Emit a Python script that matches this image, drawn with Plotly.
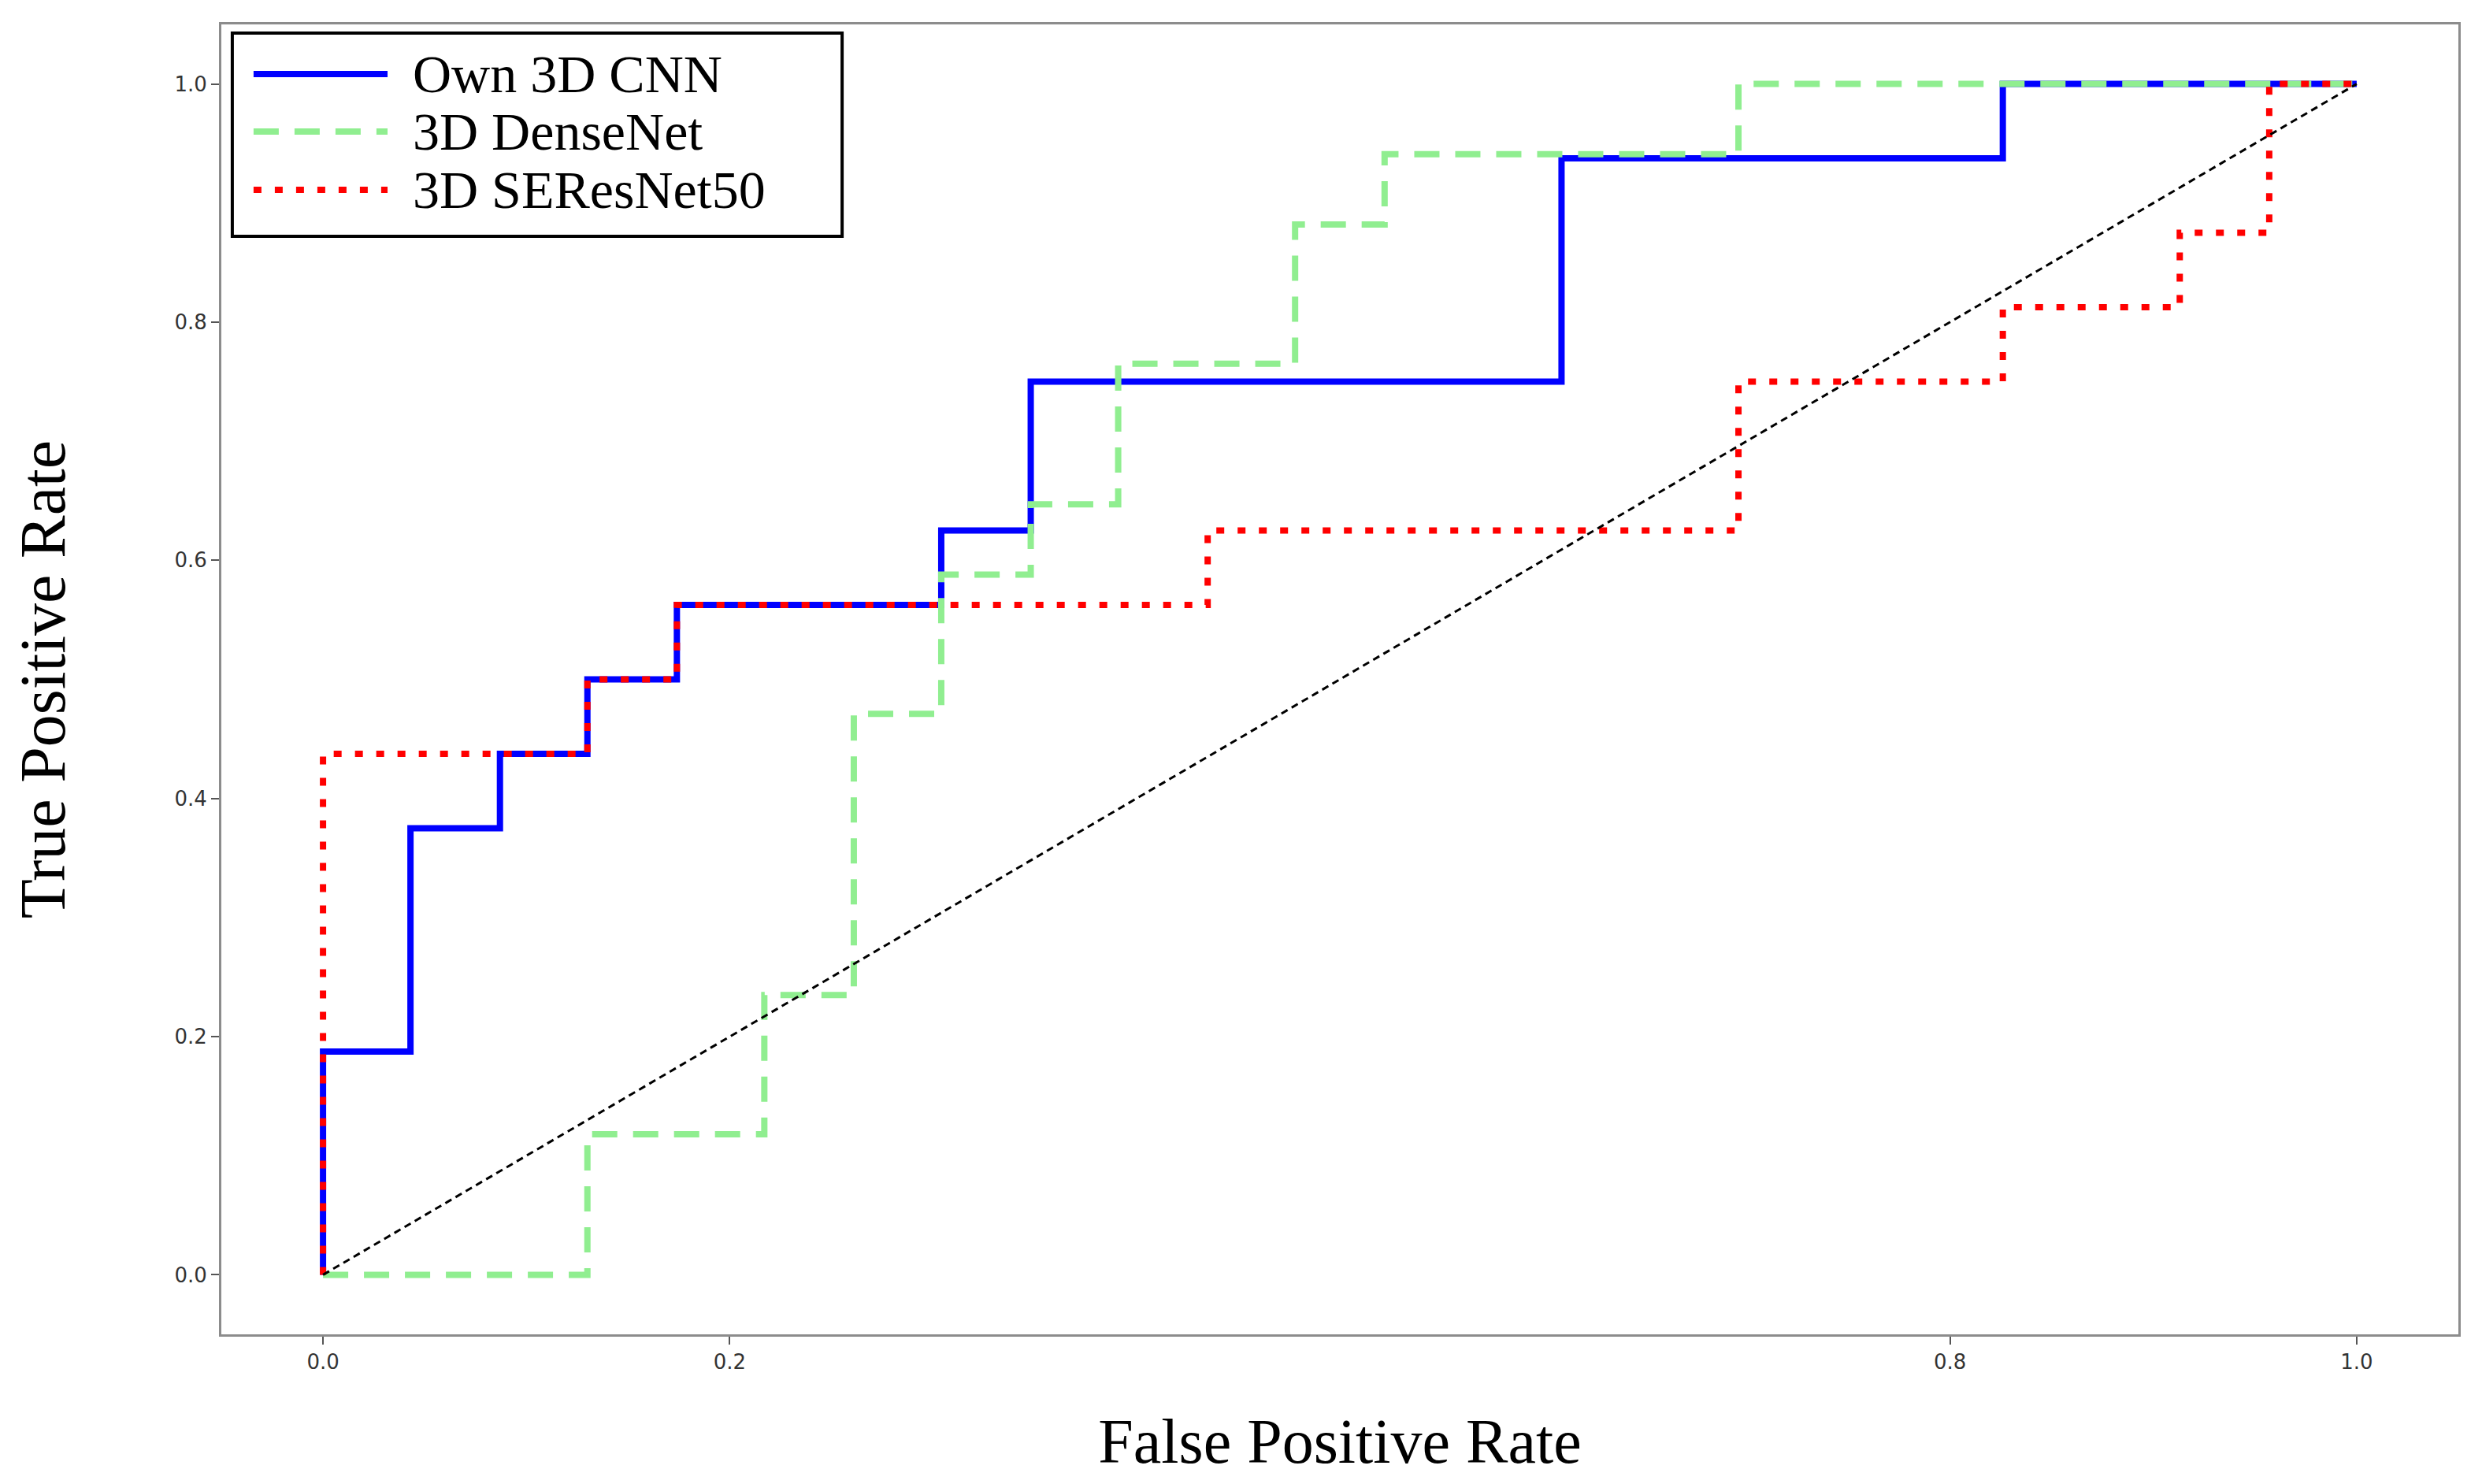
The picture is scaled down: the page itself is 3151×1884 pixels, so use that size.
import plotly.graph_objects as go

# ROC curve points (FPR, TPR)
cnn_fpr = [0.0, 0.0, 0.043, 0.087, 0.130, 0.174, 0.304, 0.348, 0.609, 0.826, 1.0]
cnn_tpr = [0.0, 0.1875, 0.375, 0.4375, 0.5, 0.5625, 0.625, 0.75, 0.9375, 1.0, 1.0]

dense_fpr = [0.0, 0.130, 0.217, 0.261, 0.304, 0.348, 0.391, 0.478, 0.522, 0.696, 1.0]
dense_tpr = [0.0, 0.118, 0.235, 0.471, 0.588, 0.647, 0.765, 0.882, 0.941, 1.0, 1.0]

seres_fpr = [0.0, 0.0, 0.130, 0.174, 0.435, 0.696, 0.826, 0.913, 0.957, 1.0]
seres_tpr = [0.0, 0.4375, 0.5, 0.5625, 0.625, 0.75, 0.8125, 0.875, 1.0, 1.0]

chance_x = [0.0, 1.0]
chance_y = [0.0, 1.0]

series_names = ["Own 3D CNN", "3D DenseNet", "3D SEResNet50"]
xtick_vals = [0.0, 0.2, 0.8, 1.0]
xtick_text = ["0.0", "0.2", "0.8", "1.0"]
ytick_vals = [0.0, 0.2, 0.4, 0.6, 0.8, 1.0]
ytick_text = ["0.0", "0.2", "0.4", "0.6", "0.8", "1.0"]

SERIF = "Palatino Linotype, Book Antiqua, Palatino, Liberation Serif, serif"
SANS = "DejaVu Sans, sans-serif"

styles = [
    dict(color="#0000FF", width=8, dash="solid"),
    dict(color="#90EE90", width=8, dash="32px,20px"),
    dict(color="#FF0000", width=8, dash="10px,17px"),
]

fig = go.Figure()
for fx, ty, nm, st in zip([cnn_fpr, dense_fpr, seres_fpr],
                          [cnn_tpr, dense_tpr, seres_tpr],
                          series_names, styles):
    fig.add_trace(go.Scatter(x=fx, y=ty, mode="lines", line_shape="hv",
                             name=nm, showlegend=False, line=st))
fig.add_trace(go.Scatter(x=chance_x, y=chance_y, mode="lines", showlegend=False,
                         name="Chance",
                         line=dict(color="#000000", width=3, dash="9px,6px")))

# Legend box drawn in plot-area (paper) coordinates
leg_x0, leg_x1 = 0.0049, 0.2775
leg_y0, leg_y1 = 0.8382, 0.9934
row_y = [0.9621, 0.9182, 0.8737]
sw_x0, sw_x1 = 0.0144, 0.0743
txt_x = 0.0849

shapes = [dict(type="rect", xref="paper", yref="paper",
               x0=leg_x0, x1=leg_x1, y0=leg_y0, y1=leg_y1,
               line=dict(color="black", width=4), fillcolor="white", layer="above")]
annotations = []
for yy, nm, st in zip(row_y, series_names, styles):
    shapes.append(dict(type="line", xref="paper", yref="paper",
                       x0=sw_x0, x1=sw_x1, y0=yy, y1=yy, layer="above",
                       line=dict(color=st["color"], width=st["width"], dash=st["dash"])))
    annotations.append(dict(xref="paper", yref="paper", x=txt_x, y=yy,
                            xanchor="left", yanchor="middle", showarrow=False,
                            text=nm, font=dict(family=SERIF, size=68, color="black")))

axis_common = dict(
    showgrid=False, zeroline=False,
    showline=True, mirror=True, linecolor="#8c8c8c", linewidth=3,
    ticks="outside", ticklen=10, tickwidth=2, tickcolor="#555555",
    tickfont=dict(family=SANS, size=26, color="#333333"),
)

fig.update_layout(
    width=3151, height=1884,
    margin=dict(l=281, r=30, t=31, b=190),
    paper_bgcolor="white", plot_bgcolor="white",
    xaxis=dict(range=[-0.05, 1.05], tickvals=xtick_vals, ticktext=xtick_text,
               title=dict(text="False Positive Rate", standoff=58,
                          font=dict(family=SERIF, size=80, color="black")),
               **axis_common),
    yaxis=dict(range=[-0.05, 1.05], tickvals=ytick_vals, ticktext=ytick_text,
               title=dict(text="True Positive Rate", standoff=112,
                          font=dict(family=SERIF, size=82, color="black")),
               **axis_common),
    shapes=shapes,
    annotations=annotations,
    showlegend=False,
)

fig.write_html("out.html", config={"displayModeBar": False},
               post_script="document.body.style.margin='0';")
